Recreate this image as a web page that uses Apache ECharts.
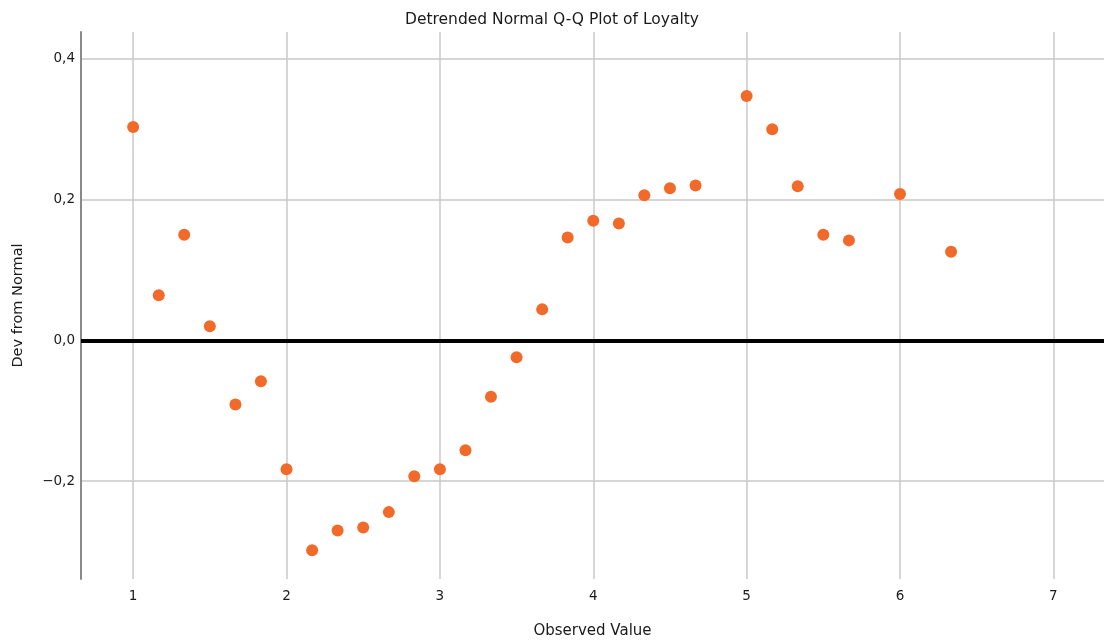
<!DOCTYPE html>
<html><head><meta charset="utf-8">
<script src="https://cdn.jsdelivr.net/npm/echarts@6/dist/echarts.min.js"></script>
<style>html,body{margin:0;padding:0;background:#fff}#c{width:1104px;height:641px}</style>
</head><body><div id="c"></div>
<script>
const observed = [1, 1.167, 1.333, 1.5, 1.667, 1.833, 2, 2.167, 2.333, 2.5, 2.667, 2.833, 3, 3.167, 3.333, 3.5, 3.667, 3.833, 4, 4.167, 4.333, 4.5, 4.667, 5, 5.167, 5.333, 5.5, 5.667, 6, 6.333];
const devFromNormal = [0.303, 0.064, 0.150, 0.020, -0.091, -0.058, -0.183, -0.298, -0.270, -0.266, -0.244, -0.193, -0.183, -0.156, -0.080, -0.024, 0.044, 0.146, 0.170, 0.166, 0.206, 0.216, 0.220, 0.347, 0.300, 0.219, 0.150, 0.142, 0.208, 0.126];
const xTicks = [1, 2, 3, 4, 5, 6, 7];
const yTicks = [-0.2, 0, 0.2, 0.4];

const font = 'DejaVu Sans';
const chart = echarts.init(document.getElementById('c'));
chart.setOption({
  animation: false,
  title: { text: 'Detrended Normal Q-Q Plot of Loyalty', left: 'center', top: 7,
    textStyle: { fontFamily: font, fontSize: 15.5, fontWeight: 'normal', color: '#1a1a1a' } },
  grid: { left: 81, top: 32, right: 0, bottom: 62, outerBoundsMode: 'none', containLabel: false },
  xAxis: {
    type: 'value', min: 0.66, max: 7.33,
    name: 'Observed Value', nameLocation: 'middle', nameGap: 45,
    nameTextStyle: { fontFamily: font, fontSize: 15, color: '#1a1a1a' },
    axisLine: { show: true, lineStyle: { color: '#8a8a8a', width: 2 } },
    axisTick: { show: false, customValues: xTicks },
    axisLabel: { customValues: xTicks, fontFamily: font, fontSize: 13.5, color: '#1a1a1a', margin: 10 },
    splitLine: { show: true, lineStyle: { color: '#c8c8c8', width: 1.5 } }
  },
  yAxis: {
    type: 'value', min: -0.339, max: 0.438,
    name: 'Dev from Normal', nameLocation: 'middle', nameGap: 55,
    nameTextStyle: { fontFamily: font, fontSize: 14.5, color: '#1a1a1a' },
    axisLine: { show: true, lineStyle: { color: '#8a8a8a', width: 2 } },
    axisTick: { show: false, customValues: yTicks },
    axisLabel: { customValues: yTicks, fontFamily: font, fontSize: 13.5, color: '#1a1a1a', margin: 6,
      formatter: v => (v < 0 ? '\u2212' : '') + Math.abs(v).toFixed(1).replace('.', ',') },
    splitLine: { show: true, lineStyle: { color: '#c8c8c8', width: 1.5 } }
  },
  series: [{
    type: 'scatter',
    data: observed.map((x, i) => [x, devFromNormal[i]]),
    symbolSize: 12,
    itemStyle: { color: '#f26a2a', opacity: 1 },
    z: 5,
    markLine: {
      silent: true, symbol: 'none', label: { show: false },
      lineStyle: { color: '#000', width: 4, type: 'solid' },
      data: [{ yAxis: 0 }]
    }
  }]
});
</script></body></html>
